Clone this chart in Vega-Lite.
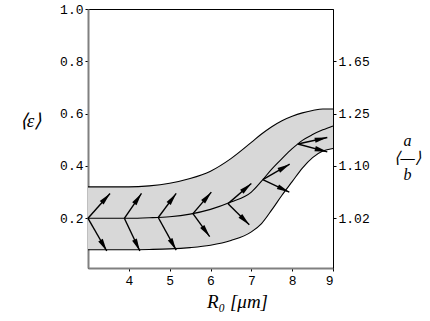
{
  "$schema": "https://vega.github.io/schema/vega-lite/v6.json",
  "width": 245,
  "height": 259,
  "autosize": {"type": "none"},
  "padding": {"left": 88, "top": 9, "right": 97, "bottom": 53},
  "background": "white",
  "config": {
    "view": {"stroke": "black", "strokeWidth": 1},
    "axis": {"labelFont": "Liberation Mono", "labelFontSize": 13, "labelColor": "black", "tickColor": "black", "grid": false, "titleColor": "black"}
  },
  "datasets": {
    "curves": [
      {"x": 3, "upper": 0.320, "mid": 0.200, "lower": 0.080},
      {"x": 3.5, "upper": 0.320, "mid": 0.200, "lower": 0.080},
      {"x": 4, "upper": 0.320, "mid": 0.200, "lower": 0.080},
      {"x": 4.5, "upper": 0.324, "mid": 0.202, "lower": 0.081},
      {"x": 5, "upper": 0.334, "mid": 0.206, "lower": 0.083},
      {"x": 5.5, "upper": 0.352, "mid": 0.216, "lower": 0.088},
      {"x": 6, "upper": 0.380, "mid": 0.234, "lower": 0.097},
      {"x": 6.5, "upper": 0.428, "mid": 0.262, "lower": 0.115},
      {"x": 7, "upper": 0.490, "mid": 0.300, "lower": 0.148},
      {"x": 7.25, "upper": 0.522, "mid": 0.342, "lower": 0.180},
      {"x": 7.5, "upper": 0.550, "mid": 0.388, "lower": 0.232},
      {"x": 7.75, "upper": 0.573, "mid": 0.428, "lower": 0.288},
      {"x": 8, "upper": 0.590, "mid": 0.466, "lower": 0.340},
      {"x": 8.25, "upper": 0.603, "mid": 0.498, "lower": 0.392},
      {"x": 8.5, "upper": 0.612, "mid": 0.520, "lower": 0.432},
      {"x": 8.75, "upper": 0.618, "mid": 0.538, "lower": 0.457},
      {"x": 9, "upper": 0.618, "mid": 0.553, "lower": 0.467}
    ],
    "arrows": [
      {"x": 3.0, "y": 0.200, "x2": 3.54, "y2": 0.295},
      {"x": 3.0, "y": 0.200, "x2": 3.46, "y2": 0.075},
      {"x": 3.89, "y": 0.200, "x2": 4.31, "y2": 0.295},
      {"x": 3.89, "y": 0.200, "x2": 4.27, "y2": 0.075},
      {"x": 4.72, "y": 0.203, "x2": 5.16, "y2": 0.295},
      {"x": 4.72, "y": 0.203, "x2": 5.16, "y2": 0.078},
      {"x": 5.57, "y": 0.218, "x2": 6.02, "y2": 0.300},
      {"x": 5.57, "y": 0.218, "x2": 5.98, "y2": 0.130},
      {"x": 6.43, "y": 0.256, "x2": 7.0, "y2": 0.333},
      {"x": 6.43, "y": 0.256, "x2": 6.95, "y2": 0.175},
      {"x": 7.28, "y": 0.348, "x2": 7.94, "y2": 0.407},
      {"x": 7.28, "y": 0.348, "x2": 7.93, "y2": 0.300},
      {"x": 8.14, "y": 0.484, "x2": 8.86, "y2": 0.509},
      {"x": 8.14, "y": 0.484, "x2": 8.86, "y2": 0.454}
    ]
  },
  "encoding": {
    "x": {
      "field": "x", "type": "quantitative",
      "scale": {"domain": [3, 9], "nice": false, "zero": false},
      "axis": {
        "values": [4, 5, 6, 7, 8, 9], "format": "d",
        "domainColor": "#808080", "domainWidth": 2,
        "tickSize": 3, "labelPadding": 3,
        "title": "R₀ [μm]", "titleFont": "Liberation Serif", "titleFontSize": 19, "titleFontStyle": "italic", "titleFontWeight": "normal",
        "titleX": 149, "titleY": 33, "titleAlign": "center", "titleBaseline": "middle"
      }
    }
  },
  "layer": [
    {
      "data": {"name": "curves"},
      "mark": {"type": "area", "fill": "#d8d8d8", "interpolate": "monotone"},
      "encoding": {
        "y": {
          "field": "upper", "type": "quantitative",
          "scale": {"domain": [0.01, 1], "nice": false, "zero": false},
          "axis": {
            "values": [0.2, 0.4, 0.6, 0.8, 1.0], "format": ".1f",
            "domainColor": "#808080", "domainWidth": 2,
            "tickSize": 3, "labelPadding": 2,
            "title": "⟨ε⟩", "titleFont": "Liberation Serif", "titleFontSize": 19, "titleFontStyle": "italic", "titleFontWeight": "normal",
            "titleAngle": 0, "titleX": -58, "titleY": 111, "titleAlign": "center", "titleBaseline": "middle"
          }
        },
        "y2": {"field": "lower"}
      }
    },
    {
      "data": {"name": "curves"},
      "mark": {"type": "line", "color": "black", "strokeWidth": 1.1, "interpolate": "monotone"},
      "encoding": {"y": {"field": "upper", "type": "quantitative", "scale": {"domain": [0.01, 1], "nice": false, "zero": false}, "axis": null}}
    },
    {
      "data": {"name": "curves"},
      "mark": {"type": "line", "color": "black", "strokeWidth": 1.1, "interpolate": "monotone"},
      "encoding": {"y": {"field": "mid", "type": "quantitative", "scale": {"domain": [0.01, 1], "nice": false, "zero": false}, "axis": null}}
    },
    {
      "data": {"name": "curves"},
      "mark": {"type": "line", "color": "black", "strokeWidth": 1.1, "interpolate": "monotone"},
      "encoding": {"y": {"field": "lower", "type": "quantitative", "scale": {"domain": [0.01, 1], "nice": false, "zero": false}, "axis": null}}
    },
    {
      "data": {"name": "arrows"},
      "mark": {"type": "rule", "color": "black", "strokeWidth": 1.4},
      "encoding": {
        "y": {
          "field": "y", "type": "quantitative",
          "scale": {"domain": [0.01, 1], "nice": false, "zero": false},
          "axis": {
            "orient": "right", "values": [0.2, 0.4, 0.6, 0.8],
            "labelExpr": "datum.value < 0.3 ? '1.02' : datum.value < 0.5 ? '1.10' : datum.value < 0.7 ? '1.25' : '1.65'",
            "domainColor": "black", "domainWidth": 1,
            "tickSize": 3, "labelPadding": 2,
            "title": ["a", "⟨—⟩", "b"], "titleFont": "Liberation Serif", "titleFontSize": 16, "titleFontStyle": "italic", "titleFontWeight": "normal",
            "titleLineHeight": 17,
            "titleAngle": 0, "titleX": 74, "titleY": 131, "titleAlign": "center", "titleBaseline": "middle"
          }
        },
        "x2": {"field": "x2"},
        "y2": {"field": "y2"}
      }
    },
    {
      "data": {"name": "arrows"},
      "transform": [
        {"calculate": "atan2((datum.x2 - datum.x) * 40.83, (datum.y2 - datum.y) * 261.6) * 180 / PI", "as": "ang"}
      ],
      "mark": {"type": "point", "filled": true, "color": "black", "opacity": 1, "shape": "M0,0L0.5,2.4L-0.5,2.4Z", "size": 110, "strokeWidth": 0},
      "encoding": {
        "x": {"field": "x2", "type": "quantitative", "scale": {"domain": [3, 9], "nice": false, "zero": false}},
        "y": {"field": "y2", "type": "quantitative", "scale": {"domain": [0.01, 1], "nice": false, "zero": false}, "axis": null},
        "angle": {"field": "ang", "type": "quantitative", "scale": null}
      }
    }
  ],
  "resolve": {"axis": {"y": "independent"}}
}
